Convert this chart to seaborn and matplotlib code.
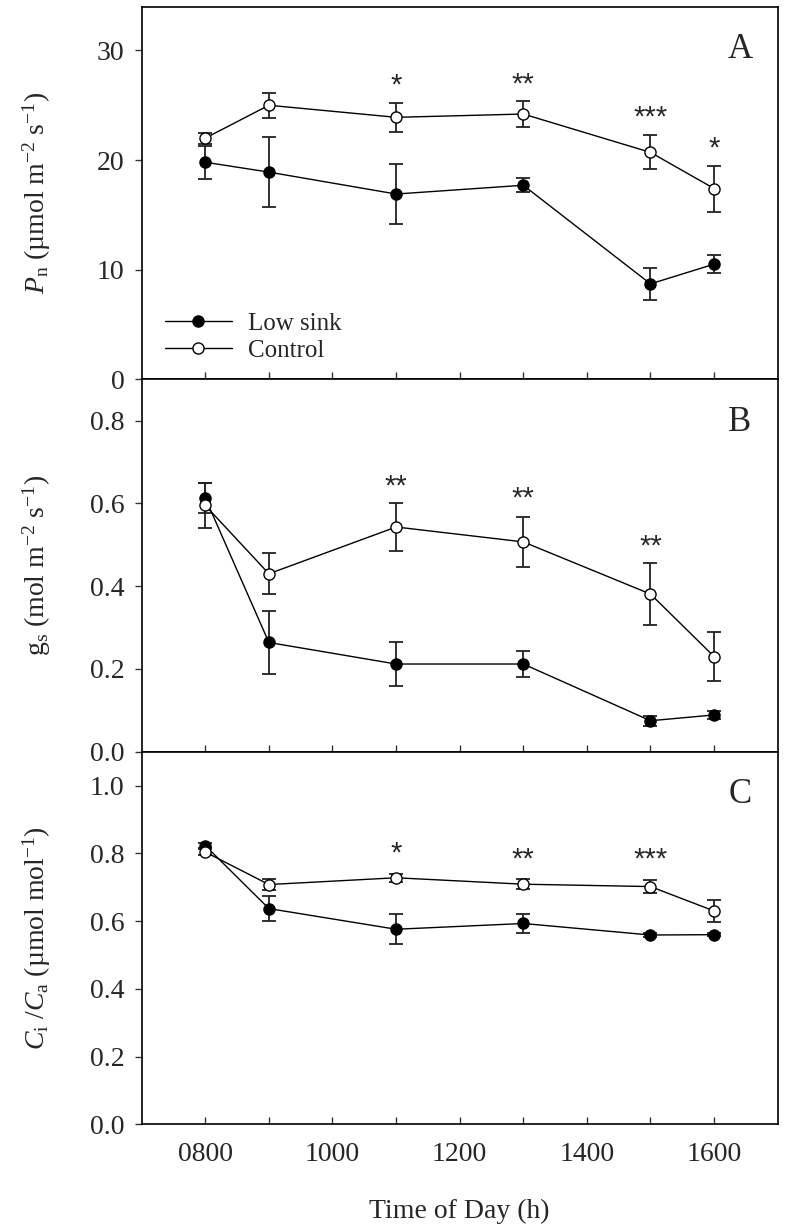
import numpy as np
import pandas as pd
import matplotlib
matplotlib.use('Agg')
import matplotlib.pyplot as plt
import seaborn as sns

# ---------------- data ----------------
times = [800, 900, 1100, 1300, 1500, 1600]

pn_low = [19.8, 18.9, 16.9, 17.7, 8.7, 10.5]
pn_low_se = [1.5, 3.2, 2.7, 0.65, 1.45, 0.85]
pn_ctrl = [22.0, 25.0, 23.9, 24.2, 20.7, 17.4]
pn_ctrl_se = [0.5, 1.15, 1.35, 1.2, 1.55, 2.1]

gs_low = [0.613, 0.264, 0.212, 0.212, 0.075, 0.089]
gs_low_se = [0.036, 0.077, 0.053, 0.031, 0.012, 0.010]
gs_ctrl = [0.595, 0.430, 0.543, 0.507, 0.381, 0.230]
gs_ctrl_se = [0.055, 0.050, 0.059, 0.060, 0.075, 0.060]

ci_low = [0.823, 0.637, 0.576, 0.593, 0.559, 0.560]
ci_low_se = [0.008, 0.037, 0.045, 0.028, 0.005, 0.005]
ci_ctrl = [0.804, 0.708, 0.728, 0.709, 0.702, 0.630]
ci_ctrl_se = [0.008, 0.015, 0.012, 0.015, 0.018, 0.032]

sig_pn = [(1100, '*', 27.3), (1300, '**', 27.4), (1500, '***', 24.4), (1600, '*', 21.6)]
sig_gs = [(1100, '**', 0.655), (1300, '**', 0.626), (1500, '**', 0.51)]
sig_ci = [(1100, '*', 0.817), (1300, '**', 0.800), (1500, '***', 0.798)]

x_major = [800, 1000, 1200, 1400, 1600]
x_major_labels = ['0800', '1000', '1200', '1400', '1600']
x_minor = [900, 1100, 1300, 1500]

# ---------------- style ----------------
sns.set_theme(style='ticks')
plt.rcParams['font.family'] = ['Liberation Serif', 'DejaVu Serif']
plt.rcParams['mathtext.fontset'] = 'custom'
plt.rcParams['mathtext.rm'] = 'Liberation Serif'
plt.rcParams['mathtext.it'] = 'Liberation Serif:italic'
plt.rcParams['mathtext.bf'] = 'Liberation Serif:bold'

TICK_FS = 20
fig = plt.figure(figsize=(7.85, 12.3), dpi=100)
L, W, H = 0.1805, 0.8102, 0.3029
bottoms = [0.6917, 0.3888, 0.0859]
axes = [fig.add_axes([L, b, W, H]) for b in bottoms]

panels = [
    dict(low=pn_low, low_se=pn_low_se, ctrl=pn_ctrl, ctrl_se=pn_ctrl_se,
         ylim=(0, 34), yticks=[0, 10, 20, 30], fmt='{:.0f}',
         ylabel=r'$\it{P}_{\rm n}$ (µmol m$^{-2}$ s$^{-1}$)', letter='A', sig=sig_pn),
    dict(low=gs_low, low_se=gs_low_se, ctrl=gs_ctrl, ctrl_se=gs_ctrl_se,
         ylim=(0, 0.9), yticks=[0, 0.2, 0.4, 0.6, 0.8], fmt='{:.1f}',
         ylabel=r'g$_{\rm s}$ (mol m$^{-2}$ s$^{-1}$)', letter='B', sig=sig_gs),
    dict(low=ci_low, low_se=ci_low_se, ctrl=ci_ctrl, ctrl_se=ci_ctrl_se,
         ylim=(0, 1.1), yticks=[0, 0.2, 0.4, 0.6, 0.8, 1.0], fmt='{:.1f}',
         ylabel=r'$\it{C}_{\rm i}$ /$\it{C}_{\rm a}$ (µmol mol$^{-1}$)', letter='C', sig=sig_ci),
]

for i, (ax, p) in enumerate(zip(axes, panels)):
    ax.errorbar(times, p['low'], yerr=p['low_se'], fmt='none', ecolor='#222222',
                elinewidth=1.3, capsize=5, capthick=1.3, zorder=2)
    ax.errorbar(times, p['ctrl'], yerr=p['ctrl_se'], fmt='none', ecolor='#222222',
                elinewidth=1.3, capsize=5, capthick=1.3, zorder=2)
    sns.lineplot(x=times, y=p['low'], ax=ax, color='black', linewidth=1.0,
                 marker='o', markersize=8, markerfacecolor='black',
                 markeredgecolor='black', markeredgewidth=1.0, label='Low sink',
                 zorder=3, errorbar=None)
    sns.lineplot(x=times, y=p['ctrl'], ax=ax, color='black', linewidth=1.0,
                 marker='o', markersize=8, markerfacecolor='white',
                 markeredgecolor='black', markeredgewidth=1.0, label='Control',
                 zorder=4, errorbar=None)

    ax.set_xlim(700, 1700)
    ax.set_ylim(*p['ylim'])
    ax.set_yticks(p['yticks'])
    ax.set_yticklabels([p['fmt'].format(v) for v in p['yticks']])
    ax.set_xticks(x_major)
    ax.set_xticks(x_minor, minor=True)
    ax.set_xticklabels(x_major_labels)

    for sp in ax.spines.values():
        sp.set_visible(True)
        sp.set_linewidth(1.2)
        sp.set_color('black')

    ax.tick_params(axis='x', which='both', direction='in', length=5.3, width=1.0,
                   color='#333333', top=False, bottom=True, labelsize=TICK_FS, pad=13)
    ax.tick_params(axis='y', which='both', direction='out', length=4.8, width=1.0,
                   color='#333333', right=False, left=True, labelsize=TICK_FS, pad=7.5)
    if i < 2:
        ax.tick_params(axis='x', labelbottom=False)
        ax.set_xlabel('')
    else:
        ax.set_xlabel('Time of Day (h)', fontsize=TICK_FS, labelpad=23)

    ax.set_ylabel(p['ylabel'], fontsize=TICK_FS)
    ax.yaxis.set_label_coords(-0.139, 0.5)

    ax.text(0.9407, 0.884, p['letter'], transform=ax.transAxes, fontsize=25,
            ha='center', va='center')

    for t, s, y in p['sig']:
        ax.annotate(s, xy=(t, y), xytext=(0, -10), textcoords='offset points',
                    ha='center', va='baseline', fontsize=21,
                    fontfamily=['Liberation Sans', 'DejaVu Sans'])

    leg = ax.get_legend()
    if leg is not None:
        leg.remove()
    if i == 0:
        ax.legend(loc='center left', bbox_to_anchor=(0.0366, 0.113), frameon=False,
                  fontsize=18, borderpad=0, borderaxespad=0, handlelength=2.67,
                  handletextpad=0.65, labelspacing=0.2)

fig.savefig('out.png', dpi=100)
